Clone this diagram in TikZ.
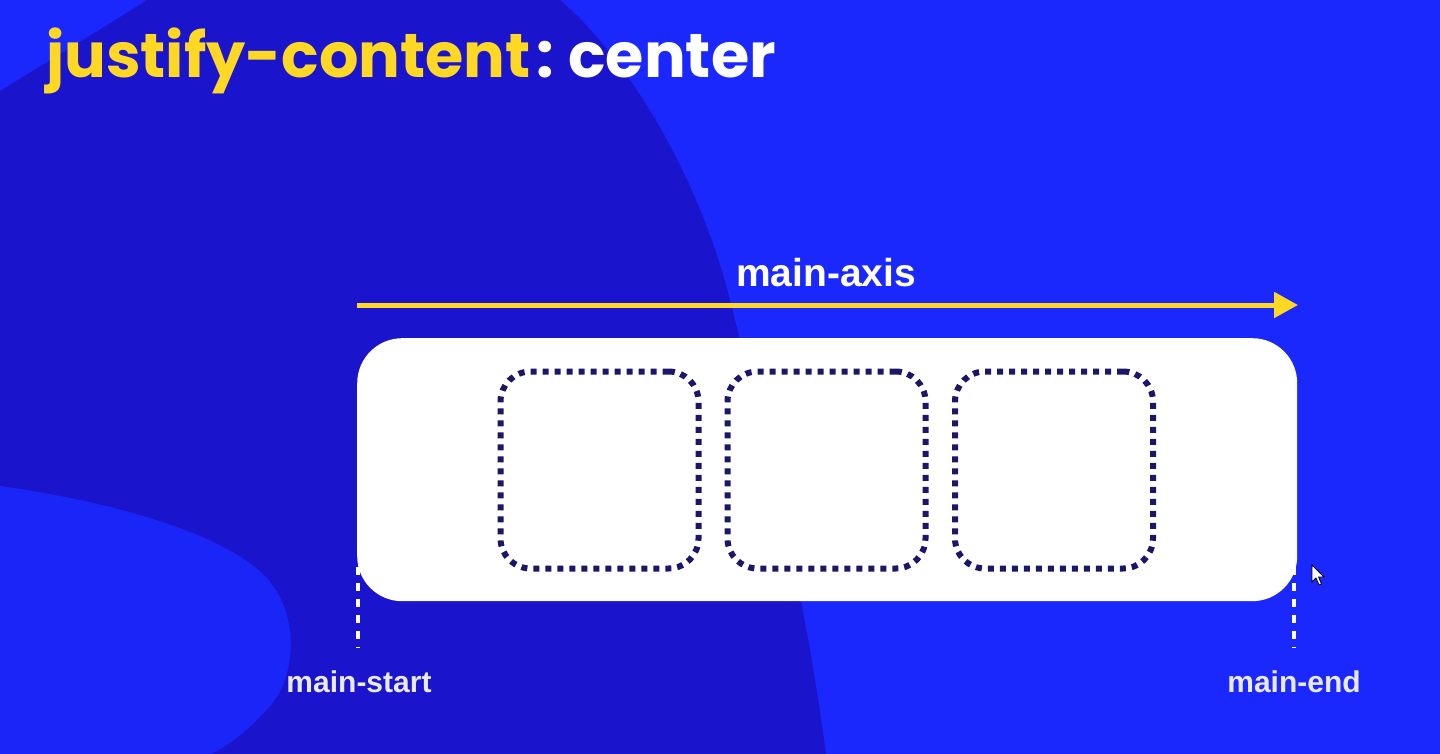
\documentclass[tikz,border=0pt]{standalone}
\usepackage{fontspec}
\newfontfamily\popfont{Poppins}
\newfontfamily\libfont{Liberation Sans}
\usetikzlibrary{arrows.meta}
\definecolor{bgbright}{HTML}{1B28FD}
\definecolor{bgdark}{HTML}{1A15CC}
\definecolor{bglight}{HTML}{1A26F8}
\definecolor{ylw}{HTML}{FFD824}
\definecolor{navy}{HTML}{1C1668}
\definecolor{lbl}{HTML}{E9E9F2}
\tikzset{
  itembox/.style={draw=navy, line width=6pt, dash pattern=on 6pt off 6pt, rounded corners=30pt, fill=white, minimum width=198pt, minimum height=197pt, inner sep=0pt},
  guide/.style={draw=white, line width=4pt, dash pattern=on 8pt off 8pt},
  endlabel/.style={text=lbl, font=\libfont\bfseries\fontsize{30}{30}\selectfont, anchor=base, inner sep=0pt},
}
\begin{document}
\begin{tikzpicture}[x=1pt,y=-1pt]
\useasboundingbox (0,0) rectangle (1440,754);
% background
\fill[bgbright] (0,0) rectangle (1440,754);
\fill[bgdark] (147,0) -- (560,0) .. controls (630,60) and (700,180) .. (730,300)
  .. controls (760,420) and (800,560) .. (826,754) -- (0,754) -- (0,91)
  .. controls (50,60) and (100,30) .. (147,0) -- cycle;
\fill[bglight] (0,486) .. controls (100,500) and (220,530) .. (266,577)
  .. controls (300,615) and (295,670) .. (275,700) .. controls (255,725) and (230,745) .. (211,754)
  -- (0,754) -- cycle;
% title
\node[anchor=base west, inner sep=0pt, font=\popfont\bfseries\fontsize{62}{62}\selectfont] (title) at (46,78)
  {\textcolor{ylw}{justify-content}\hspace{6pt}\textcolor{white}{:\hspace{14pt}center}};
% axis
\coordinate (axS) at (357,305);
\coordinate (axE) at (1298,305);
\draw[ylw, line width=5pt, -{Triangle[length=24pt,width=25pt]}] (axS) -- (axE);
\node[anchor=base, inner sep=0pt, text=white, font=\libfont\bfseries\fontsize{39}{39}\selectfont] (axislabel) at (826,286) {main-axis};
% container
\node[fill=white, rounded corners=45pt, minimum width=940pt, minimum height=263pt, inner sep=0pt, anchor=north west] (box) at (357,338) {};
% items
\node[itembox] (i1) at (599.5,470) {};
\node[itembox] (i2) at (826.5,470) {};
\node[itembox] (i3) at (1054,470) {};
% guides
\coordinate (gs1) at (358,567);
\coordinate (gs2) at (358,648);
\coordinate (ge1) at (1294,567);
\coordinate (ge2) at (1294,648);
\draw[guide] (gs1) -- (gs2);
\draw[guide] (ge1) -- (ge2);
\node[endlabel] (startlabel) at (359,692) {main-start};
\node[endlabel] (endlabel) at (1294,692) {main-end};
% cursor
\draw[fill=white, draw=black, line width=0.8pt, line join=miter] (1312,565) -- ++(0,17) -- ++(4,-4) -- ++(3,7) -- ++(2.5,-1) -- ++(-3,-7) -- ++(5.5,0) -- cycle;
\end{tikzpicture}
\end{document}
